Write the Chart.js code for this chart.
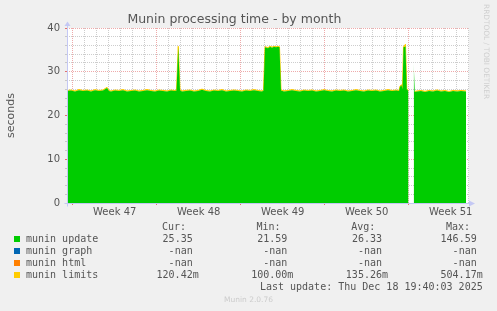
<!DOCTYPE html>
<html><head><meta charset="utf-8">
<script src="https://cdn.jsdelivr.net/npm/chart.js@4/dist/chart.umd.min.js"></script>
<style>
html,body{margin:0;padding:0;background:#f0f0f0;}
#wrap{position:relative;width:497px;height:311px;overflow:hidden;background:#f0f0f0;}
canvas{position:absolute;left:0;top:0;}
.t{position:absolute;font-family:"DejaVu Sans Mono",monospace;font-size:10px;line-height:12px;height:12px;color:#555;white-space:pre;}
.sq{position:absolute;width:6px;height:6px;}
#rrd{position:absolute;left:482px;top:4px;writing-mode:vertical-rl;font-family:"DejaVu Sans",sans-serif;font-size:7.4px;color:#cfcfcf;white-space:nowrap;line-height:9px;}
#ver{position:absolute;left:0;width:497px;top:295px;text-align:center;font-family:"DejaVu Sans",sans-serif;font-size:7.5px;color:#cccccc;line-height:10px;}
</style></head><body>
<div id="wrap">
<canvas id="c" width="497" height="311"></canvas>
<div id="legend"></div>
<div id="rrd">RRDTOOL / TOBI OETIKER</div>
<div id="ver">Munin 2.0.76</div>
</div>
<script>
// ---- data (time in hours from left edge of graph) ----
const hours = [0,8,16,24,32,40,48,56,64,72,
 80,84,88,96,104,112,120,128,136,144,
 152,160,168,176,184,192,200,208,216,219,
 222.5,226,230,238,246,254,262,270,278,286,
 294,302,310,318,326,334,342,350,358,366,
 374,382,390,393,396,402,406,410,414,418,
 422,425,428,434,442,450,458,466,474,482,
 490,498,506,514,522,530,538,546,554,562,
 570,578,586,594,602,610,618,626,634,642,
 650,658,664,666,669,671,673,677,679.5,683,
 684,693.4,695.6,700,708,716,724,732,740,748,
 756,764,772,780,788,798];
const updateSec = [25.6,25.7,25.5,25.8,25.6,25.7,25.5,25.8,25.6,25.7,
 26.3,25.6,25.5,25.7,25.6,25.8,25.5,25.6,25.7,25.5,
 25.6,25.8,25.6,25.5,25.7,25.6,25.5,25.7,25.6,25.7,
 35.7,25.8,25.5,25.6,25.7,25.5,25.6,25.9,25.6,25.5,
 25.7,25.6,25.8,25.5,25.6,25.7,25.6,25.5,25.7,25.6,
 25.8,25.6,25.5,25.7,35.6,35.4,35.7,35.5,35.7,35.6,
 35.7,35.6,25.7,25.5,25.6,25.8,25.6,25.5,25.7,25.6,
 25.7,25.5,25.6,25.8,25.6,25.5,25.7,25.6,25.7,25.5,
 25.6,25.8,25.6,25.5,25.7,25.6,25.7,25.5,25.6,25.8,
 25.6,25.7,25.6,26.6,26.9,26.0,35.6,35.8,26.0,25.6,
 null,31.9,25.4,25.5,25.6,25.4,25.6,25.5,25.7,25.5,
 25.6,25.4,25.6,25.5,25.6,25.5];
const limitsSec = [.12,.13,.11,.14,.12,.12,.13,.11,.12,.14,
 .13,.12,.11,.12,.13,.12,.12,.11,.13,.12,
 .12,.14,.12,.11,.12,.13,.12,.12,.11,.12,
 .13,.12,.12,.14,.12,.11,.12,.13,.12,.12,
 .11,.12,.13,.12,.12,.14,.12,.11,.12,.13,
 .12,.12,.11,.12,.13,.12,.14,.12,.12,.13,
 .12,.11,.12,.13,.12,.12,.14,.12,.11,.12,
 .13,.12,.12,.11,.12,.14,.12,.13,.12,.12,
 .11,.12,.13,.12,.12,.14,.12,.11,.12,.13,
 .12,.12,.11,.12,.13,.12,.14,.50,.12,.12,
 null,null,.12,.11,.12,.13,.12,.12,.14,.12,
 .12,.11,.12,.13,.12,.12];
const xMaxHours = 803.4;
const weekStartHours = [11.4,179.4,347.4,515.4,683.4];
const weekLabels = ['Week 47','Week 48','Week 49','Week 50','Week 51'];
const yTicks = [0,10,20,30,40];

const seriesNames = ['munin update','munin graph','munin html','munin limits'];
const seriesColors = ['#00cc00','#0066b3','#ff8000','#ffcc00'];
const curVals = ['25.35','-nan','-nan','120.42m'];
const minVals = ['21.59','-nan','-nan','100.00m'];
const avgVals = ['26.33','-nan','-nan','135.26m'];
const maxVals = ['146.59','-nan','-nan','504.17m'];
const lastUpdate = 'Last update: Thu Dec 18 19:40:03 2025';

// ---- build tables ----
const updPts = hours.map((h,i)=>({x:h, y:updateSec[i]}));
const limPts = hours.map((h,i)=>({x:h, y:(updateSec[i]==null||limitsSec[i]==null)?null:updateSec[i]+limitsSec[i]}));
const dayTicks = [];
weekStartHours.forEach(ws=>{ for(let d=0; d<7; d++){ const v=ws+24*d; if(v<=xMaxHours+0.01) dayTicks.push(v);} });
const labelTicks = weekStartHours.map(ws=>ws+84);
const xTickVals = dayTicks.concat(labelTicks).sort((a,b)=>a-b);
const isWeek = v => weekStartHours.some(w=>Math.abs(w-v)<0.01);
const labelIdx = v => labelTicks.findIndex(w=>Math.abs(w-v)<0.01);

const RED='#eeaaaa', GRAY='#cdcdcd', AXIS='#c4c8f4', TXT='#555555';

const deco = {
  id:'deco',
  beforeDraw(chart){
    const {ctx, chartArea:a} = chart;
    ctx.save(); ctx.fillStyle='#ffffff';
    ctx.fillRect(a.left, a.top, a.right-a.left, a.bottom-a.top);
    ctx.restore();
  },
  afterDraw(chart){
    const {ctx, chartArea:a} = chart;
    const L=Math.round(a.left)+0.5, B=Math.round(a.bottom)+0.5, R=Math.round(a.right);
    ctx.save();
    ctx.strokeStyle=AXIS; ctx.fillStyle=AXIS; ctx.lineWidth=1;
    ctx.beginPath(); ctx.moveTo(L-3,B); ctx.lineTo(R,B); ctx.stroke();
    ctx.beginPath(); ctx.moveTo(L,B+3); ctx.lineTo(L,a.top-2); ctx.stroke();
    ctx.beginPath(); ctx.moveTo(R+6,B); ctx.lineTo(R,B-3); ctx.lineTo(R,B+3); ctx.closePath(); ctx.fill();
    ctx.beginPath(); ctx.moveTo(L,a.top-6.5); ctx.lineTo(L-3,a.top-2); ctx.lineTo(L+3,a.top-2); ctx.closePath(); ctx.fill();
    ctx.restore();
  }
};

new Chart(document.getElementById('c'), {
  type:'line',
  data:{ datasets:[
    {label:seriesNames[0], data:updPts, fill:'origin', backgroundColor:seriesColors[0], borderColor:seriesColors[0], borderWidth:0, pointRadius:0, tension:0, order:0, spanGaps:false},
    {label:seriesNames[1], data:[], borderColor:seriesColors[1], backgroundColor:seriesColors[1], pointRadius:0, order:2},
    {label:seriesNames[2], data:[], borderColor:seriesColors[2], backgroundColor:seriesColors[2], pointRadius:0, order:3},
    {label:seriesNames[3], data:limPts, fill:0, backgroundColor:seriesColors[3], borderColor:seriesColors[3], borderWidth:1, pointRadius:0, tension:0, order:1, spanGaps:false}
  ]},
  options:{
    responsive:false, animation:false, devicePixelRatio:1,
    layout:{padding:{left:0, right:28.3, top:0, bottom:88}},
    plugins:{
      legend:{display:false}, tooltip:{enabled:false},
      title:{display:true, text:'Munin processing time - by month', color:TXT,
        font:{family:'DejaVu Sans', size:12.5, weight:'normal'}, padding:{top:12, bottom:1}}
    },
    scales:{
      x:{type:'linear', min:0, max:xMaxHours,
        afterBuildTicks: s=>{ s.ticks = xTickVals.map(v=>({value:v})); },
        afterFit: s=>{ s.height = 20; },
        ticks:{autoSkip:false, maxRotation:0, minRotation:0, padding:1.5, color:TXT,
          font:{family:'DejaVu Sans', size:10},
          callback:(v)=>{ const i=labelIdx(v); return i>=0 ? weekLabels[i] : ''; }},
        grid:{drawTicks:true, tickLength:2, lineWidth:1,
          color: c=> (c.tick && isWeek(c.tick.value)) ? RED : (c.tick && labelIdx(c.tick.value)>=0 ? 'rgba(0,0,0,0)' : GRAY),
          tickColor: c=> (c.tick && isWeek(c.tick.value)) ? '#e07070' : 'rgba(0,0,0,0)'},
        border:{display:false, dash:[1,1]}
      },
      y:{min:0, max:40,
        afterFit: s=>{ s.width = 67; },
        ticks:{stepSize:2, autoSkip:false, padding:5, color:TXT,
          font:{family:'DejaVu Sans', size:10},
          callback:(v)=> yTicks.includes(v) ? String(v) : ''},
        grid:{drawTicks:true, tickLength:2, lineWidth:1,
          color: c=> (c.tick && yTicks.includes(c.tick.value)) ? RED : GRAY,
          tickColor: c=> (c.tick && yTicks.includes(c.tick.value)) ? '#e07070' : '#c8c8c8'},
        border:{display:false, dash:[1,1]},
        title:{display:true, text:'seconds', color:TXT, font:{family:'DejaVu Sans', size:11}, padding:{top:5, bottom:0}}
      }
    }
  },
  plugins:[deco]
});

// ---- legend as HTML text ----
const lg = document.getElementById('legend');
function addText(txt, rightEdge, centerY, leftEdge){
  const s=document.createElement('div'); s.className='t'; s.textContent=txt;
  s.style.top=(centerY-6)+'px';
  if(leftEdge!=null) s.style.left=leftEdge+'px'; else s.style.right=(497-rightEdge)+'px';
  lg.appendChild(s);
}
const colEnds=[192.7,287.3,382,476.7];
const heads=['Cur:','Min:','Avg:','Max:'];
heads.forEach((h,i)=>addText(h, colEnds[i]-6.7, 227.3));
const cols=[curVals,minVals,avgVals,maxVals];
seriesNames.forEach((n,r)=>{
  const cy=239.3+12*r;
  const sq=document.createElement('div'); sq.className='sq'; sq.style.background=seriesColors[r];
  sq.style.left='14px'; sq.style.top=(cy-3)+'px'; lg.appendChild(sq);
  addText(n, null, cy, 26);
  cols.forEach((c,i)=>{ const v=c[r]; addText(v, colEnds[i]+(v.endsWith('m')?6:0), cy); });
});
addText(lastUpdate, 482.7, 287.3);
</script>
</body></html>
